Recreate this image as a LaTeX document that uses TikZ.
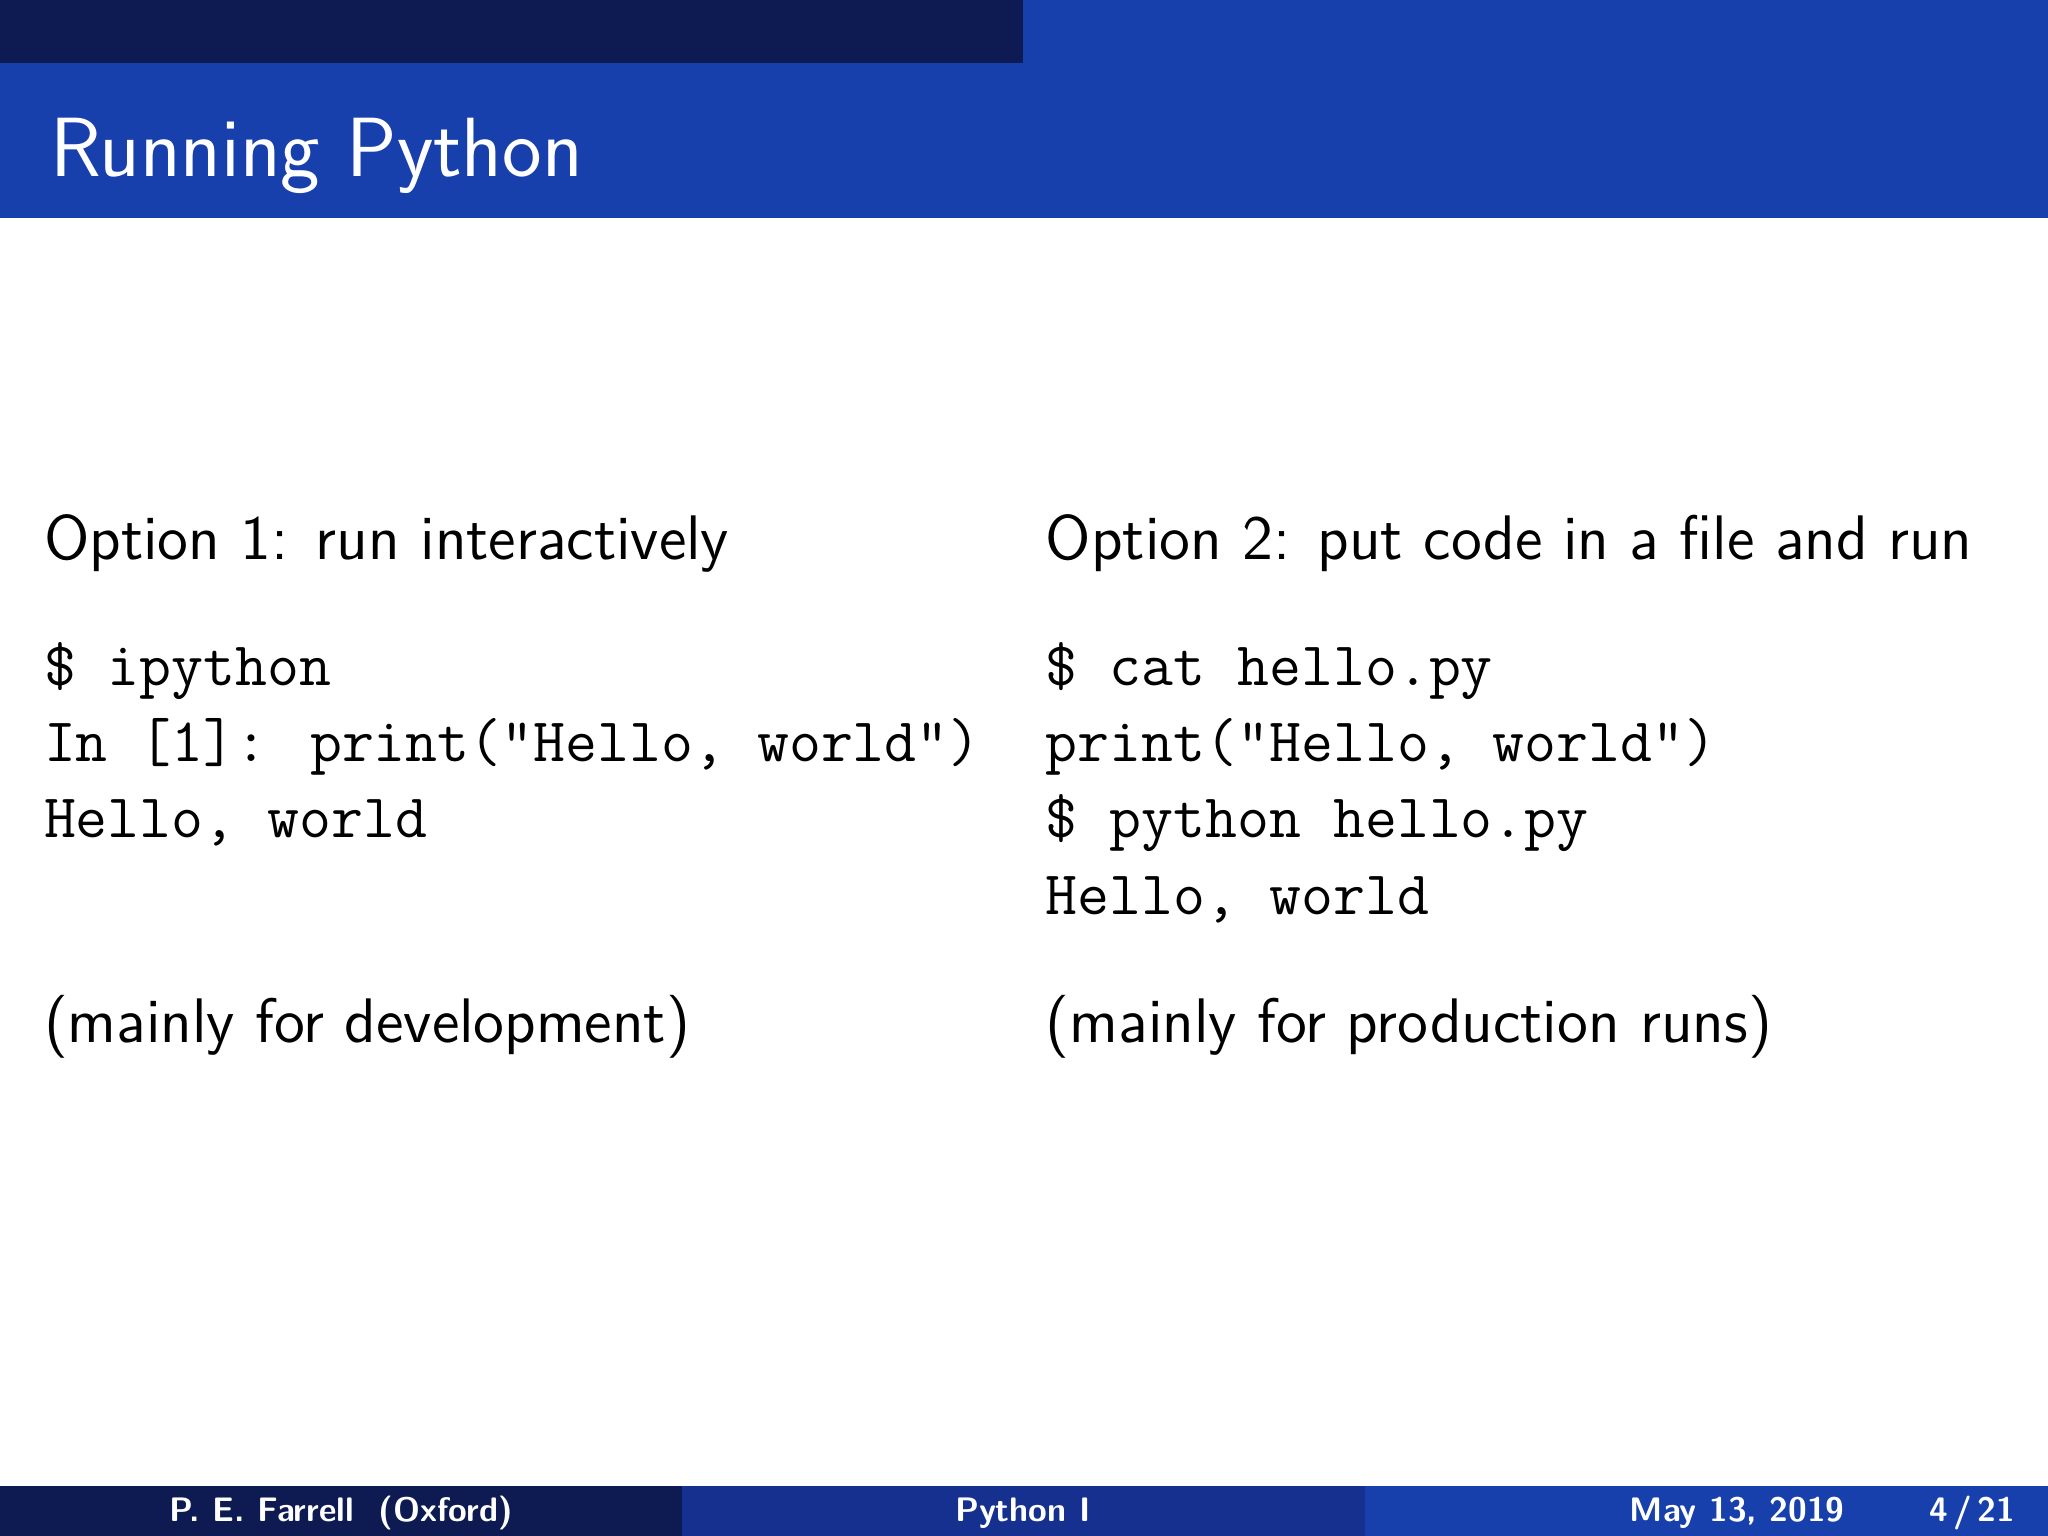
\documentclass[tikz,border=0pt]{standalone}
\usepackage{fontspec}
\definecolor{navy}{HTML}{0D1B52}
\definecolor{midb}{HTML}{15308F}
\definecolor{mainb}{HTML}{1740AD}
\tikzset{
 body/.style={anchor=base west,inner sep=0pt,font=\sffamily\fontsize{13.7}{16}\selectfont},
 code/.style={anchor=base west,inner sep=0pt,font=\ttfamily\fontsize{13.5}{16}\selectfont},
 foot/.style={anchor=base,inner sep=0pt,text=white,font=\sffamily\bfseries\fontsize{7.4}{9}\selectfont}
}
\begin{document}
\begin{tikzpicture}[x=0.01cm,y=-0.01cm]
\useasboundingbox[fill=white] (0,0) rectangle (1568,1176);
\fill[navy] (0,0) rectangle (783,48);
\fill[mainb] (783,0) rectangle (1568,48);
\fill[mainb] (0,48) rectangle (1568,167);
\node[anchor=base west,inner sep=0pt,text=white,font=\sffamily\fontsize{18.3}{21}\selectfont] (title) at (38,135) {Running Python};
\node[body] (o1) at (33,428) {Option 1: run interactively};
\node[body] (o2) at (800,428) {Option 2: put code in a file and run};
\node[code] (a1) at (33,525) {\$ ipython};
\node[code] (a2) at (33,583) {In [1]: print("Hello, world")};
\node[code] (a3) at (33,641) {Hello, world};
\node[code] (b1) at (800,525) {\$ cat hello.py};
\node[code] (b2) at (800,583) {print("Hello, world")};
\node[code] (b3) at (800,641) {\$ python hello.py};
\node[code] (b4) at (800,700) {Hello, world};
\node[body] (m1) at (33,798) {(mainly for development)};
\node[body] (m2) at (800,798) {(mainly for production runs)};
\fill[navy] (0,1138) rectangle (522,1176);
\fill[midb] (522,1138) rectangle (1045,1176);
\fill[mainb] (1045,1138) rectangle (1568,1176);
\node[foot] (f1) at (261,1165) {P. E. Farrell\ \ (Oxford)};
\node[foot] (f2) at (783,1165) {Python I};
\node[foot] (f3) at (1330,1165) {May 13, 2019};
\node[foot] (f4) at (1510,1165) {4\,/\,21};
\end{tikzpicture}
\end{document}
